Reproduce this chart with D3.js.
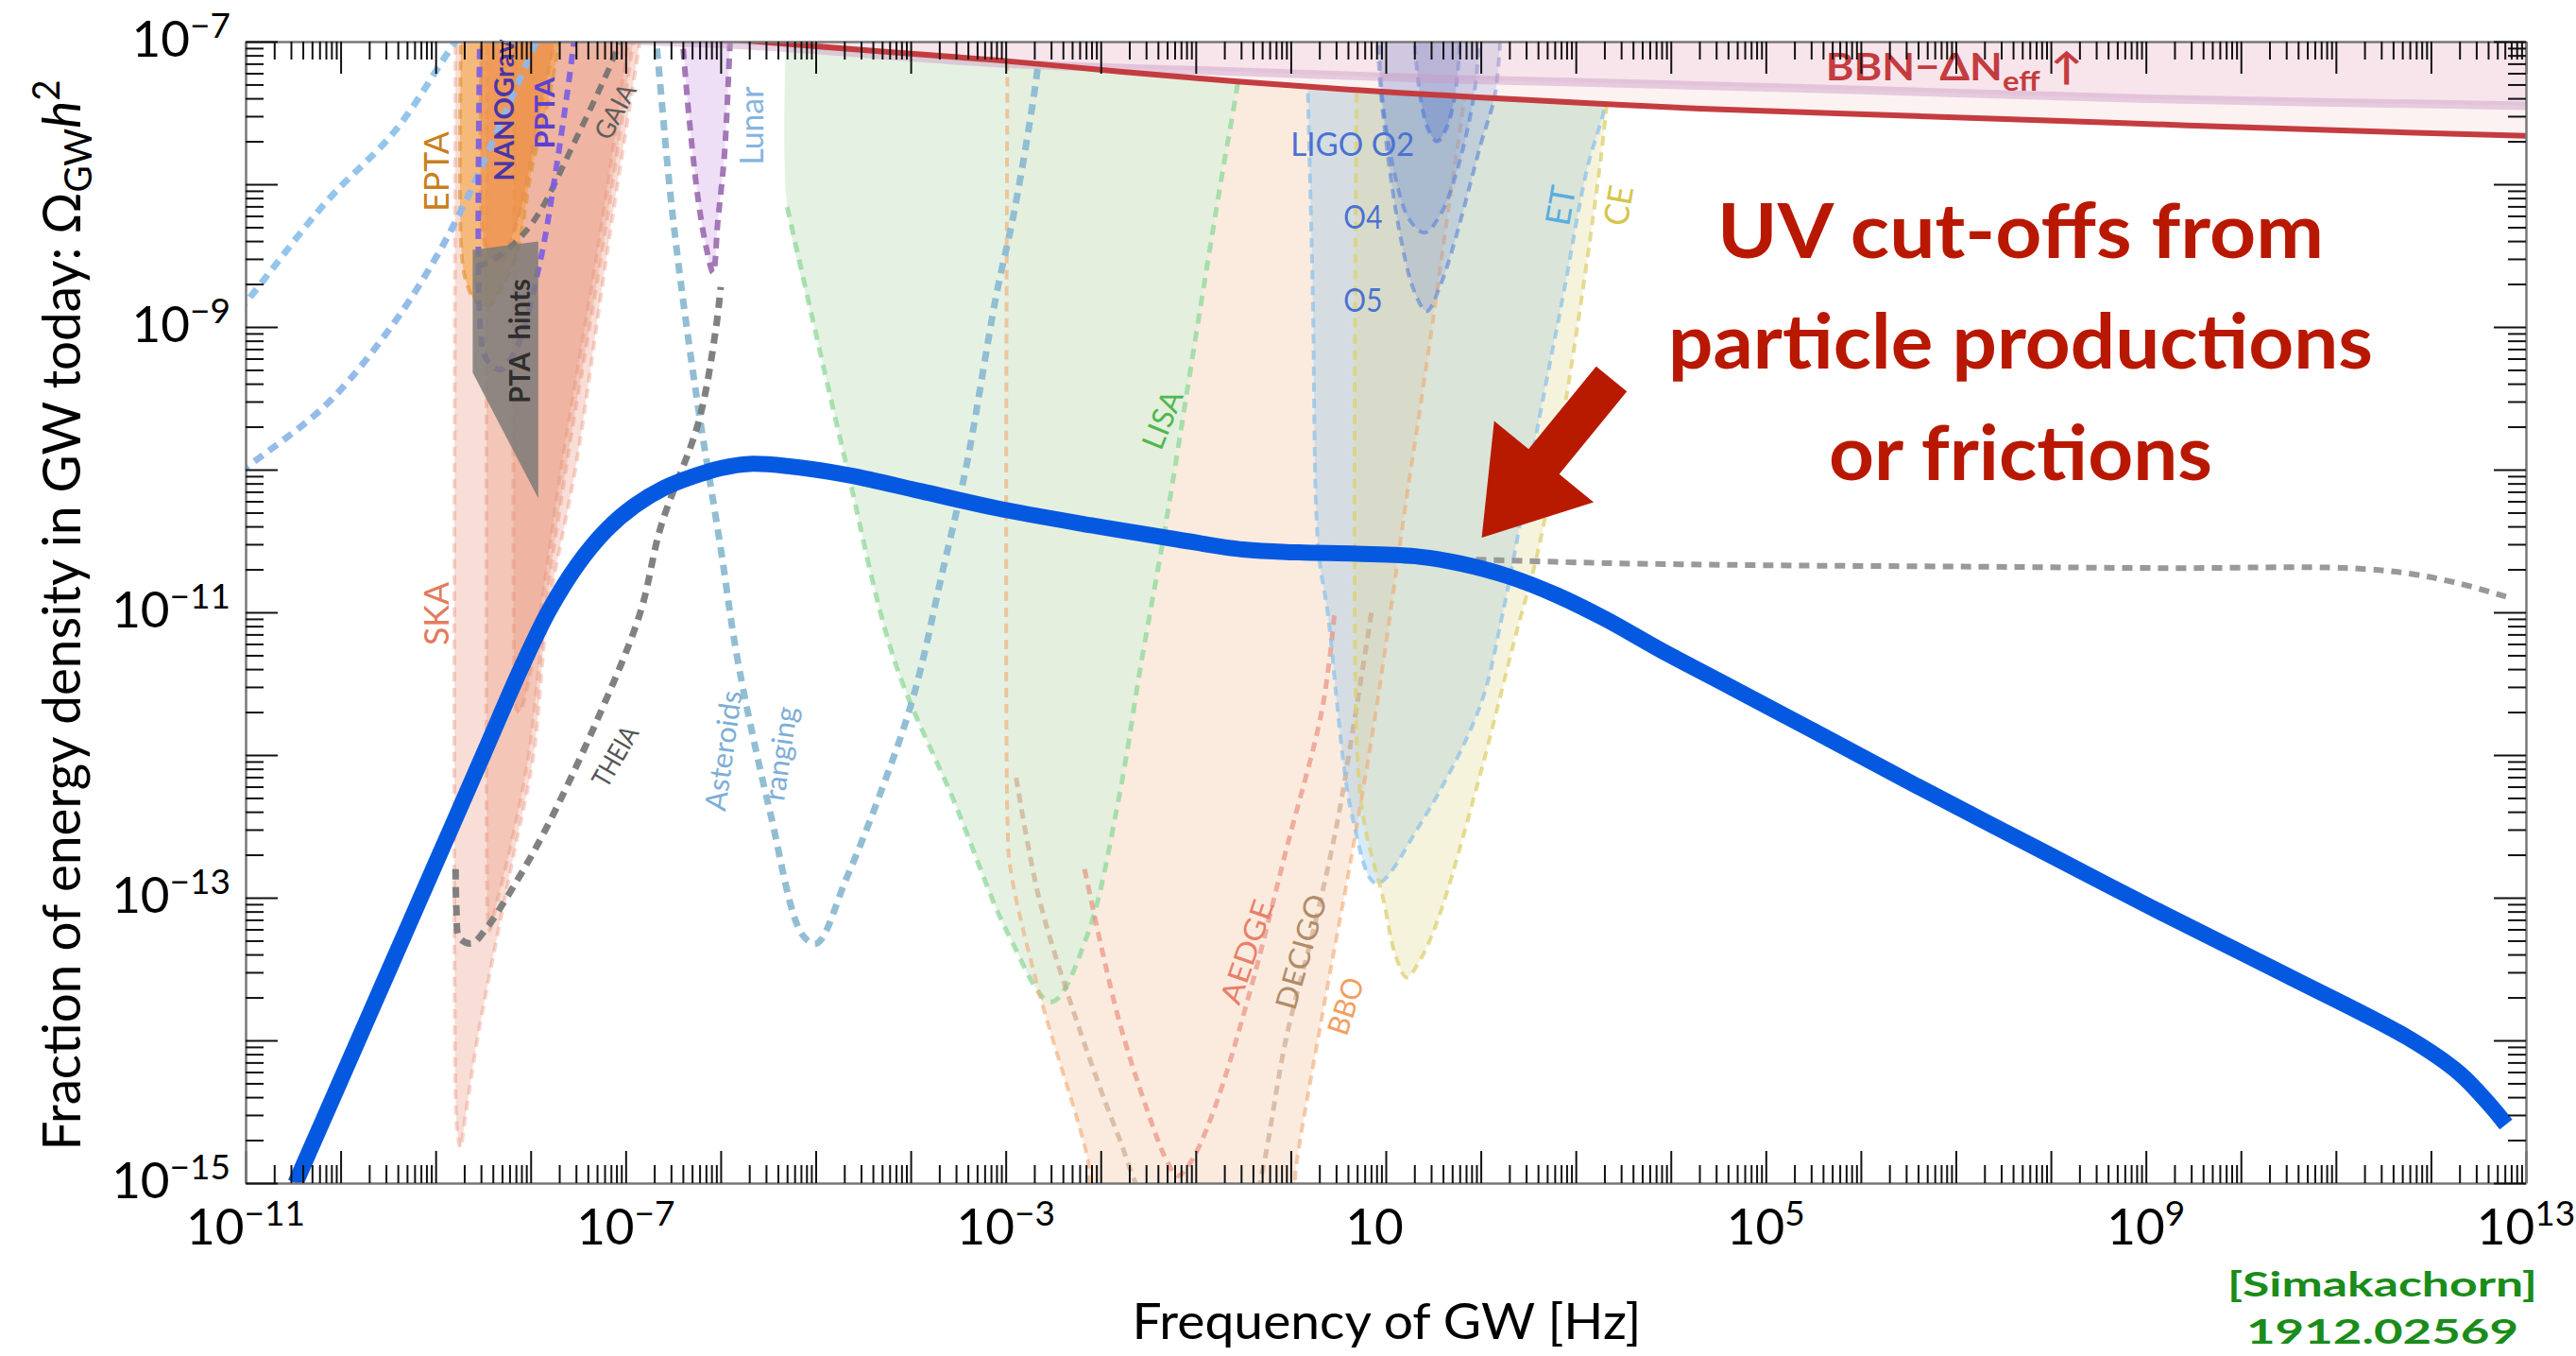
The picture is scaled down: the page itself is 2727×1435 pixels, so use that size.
<!DOCTYPE html>
<html>
<head>
<meta charset="utf-8">
<script src="https://cdn.jsdelivr.net/npm/d3@7/dist/d3.min.js"></script>
<style>
html,body{margin:0;padding:0;background:#fff;}
svg{display:block;}
text{font-family:Lato,"DejaVu Sans",sans-serif;}
</style>
</head>
<body>
<svg id="chart" width="2727" height="1435"></svg>
<script>
// Every curve below is a list of [log10(f / Hz), log10(Omega_GW h^2)] pairs.
const xTickExponents = [-11, -7, -3, 1, 5, 9, 13];
const yTickExponents = [-15, -13, -11, -9, -7];

// GW spectrum of the model (thick blue curve)
const signalCurve = [
  [-10.475,-15.0],[-10.0,-14.28],[-9.5,-13.52],[-9.0,-12.76],[-8.5,-12.0],[-8.1,-11.39],
  [-7.8,-10.98],[-7.5,-10.66],[-7.2,-10.42],[-6.9,-10.25],[-6.6,-10.13],[-6.3,-10.05],
  [-6.0,-9.99],[-5.7,-9.96],[-5.3,-9.975],[-4.64,-10.04],[-3.9,-10.15],[-3.10,-10.27],
  [-2.1,-10.39],[-1.19,-10.49],[-0.5,-10.56],[0.08,-10.58],[0.7,-10.59],[1.35,-10.61],
  [1.8,-10.66],[2.3,-10.75],[2.8,-10.88],[3.32,-11.05],[3.88,-11.26],[4.62,-11.52],
  [5.5,-11.83],[6.57,-12.21],[7.9,-12.67],[9.18,-13.11],[10.5,-13.55],[11.78,-13.99],
  [12.30,-14.23],[12.63,-14.46],[12.79,-14.59]
];
// Spectrum without the UV cut-off (grey dotted)
const uncutTail = [
  [1.95,-10.63],[3.32,-10.655],[5.0,-10.67],[7.22,-10.68],[9.2,-10.69],[11.13,-10.69],
  [11.79,-10.73],[12.31,-10.80],[12.79,-10.89]
];
// BBN / Delta N_eff bounds
const bbnBound = [
  [-6.6,-6.95],[-5.6,-7.0],[-4.3,-7.07],[-3.1,-7.13],[-1.8,-7.21],[-0.56,-7.28],[0.7,-7.34],
  [1.97,-7.39],[3.1,-7.43],[4.31,-7.47],[6.5,-7.52],[8.7,-7.57],[10.9,-7.62],[13.0,-7.66]
];
const bbnBoundAlt = [
  [-8.0,-6.96],[-7.0,-6.99],[-5.63,-7.03],[-3.1,-7.15],[-0.6,-7.21],[1.5,-7.26],[3.3,-7.29],
  [6.0,-7.34],[9.0,-7.40],[13.0,-7.45]
];
// Pulsar timing arrays
const skaOuter = [
  [-8.79,-6.8],[-8.79,-14.4],[-8.77,-14.65],[-8.74,-14.75],[-8.68,-14.5],[-8.56,-13.99],
  [-8.37,-13.33],[-8.17,-12.67],[-7.97,-12.0],[-7.82,-11.01],[-7.52,-9.96],[-7.2,-8.5],
  [-6.85,-7.0],[-6.8,-6.8]
];
const skaMiddle = [
  [-8.46,-6.8],[-8.46,-12.9],[-8.45,-13.15],[-8.43,-13.23],[-8.38,-13.1],[-8.22,-12.67],
  [-8.02,-12.0],[-7.85,-11.01],[-7.62,-9.96],[-7.22,-8.36],[-6.92,-7.0],[-6.88,-6.8]
];
const skaInner = [
  [-8.17,-6.8],[-8.17,-11.5],[-8.15,-11.68],[-8.12,-11.7],[-8.02,-11.48],[-7.90,-11.01],
  [-7.67,-9.96],[-7.27,-8.36],[-6.97,-7.0],[-6.93,-6.8]
];
const eptaRegion = [
  [-8.73,-6.8],[-8.73,-8.45],[-8.68,-8.68],[-8.58,-8.82],[-8.45,-8.86],[-8.3,-8.72],
  [-8.15,-8.50],[-7.99,-7.9],[-7.82,-7.43],[-7.70,-7.0],[-7.67,-6.8]
];
const nanogravRegion = [
  [-8.51,-6.8],[-8.51,-8.3],[-8.45,-8.48],[-8.32,-8.54],[-8.2,-8.38],[-8.09,-8.14],
  [-7.92,-7.55],[-7.75,-7.0],[-7.72,-6.8]
];
const pptaCurve = [
  [-8.53,-6.8],[-8.53,-9.0],[-8.47,-9.22],[-8.32,-9.30],[-8.15,-9.15],[-7.90,-8.54],
  [-7.75,-7.97],[-7.55,-7.03],[-7.52,-6.8]
];
const ptaHints = [[-8.61,-8.46],[-7.92,-8.40],[-7.92,-10.20],[-8.61,-9.32]];
// Astrometry, ranging and other proposals
const gaiaCurve = [
  [-7.05,-6.95],[-7.12,-7.10],[-7.55,-7.72],[-7.92,-8.21],[-8.15,-8.40],[-8.42,-8.54],[-8.6,-8.58]
];
const theiaCurve = [
  [-8.79,-12.80],[-8.78,-13.1],[-8.75,-13.28],[-8.62,-13.32],[-8.45,-13.2],[-8.28,-13.03],
  [-7.88,-12.57],[-7.31,-11.77],[-6.85,-11.01],[-6.63,-10.40],[-6.23,-9.66],[-6.05,-9.01],[-6.0,-8.72]
];
const skyUpper = [[-11.2,-8.98],[-11,-8.83],[-10.16,-8.13],[-9.42,-7.62],[-8.79,-7.0],[-8.6,-6.85]];
const skyLower = [
  [-11.2,-10.1],[-11,-9.99],[-10.16,-9.55],[-9.48,-9.01],[-9.02,-8.54],[-8.67,-8.10],
  [-8.3,-7.55],[-7.94,-7.0],[-7.8,-6.8]
];
const asteroidCurve = [
  [-6.72,-6.8],[-6.68,-7.0],[-6.51,-8.19],[-6.28,-9.37],[-6.0,-10.55],[-5.82,-11.34],
  [-5.48,-12.40],[-5.14,-13.26],[-4.99,-13.32],[-4.68,-12.87],[-4.36,-12.34],[-3.98,-11.61],
  [-3.66,-10.70],[-3.41,-9.96],[-3.10,-8.78],[-2.91,-8.19],[-2.68,-7.27],[-2.62,-6.9]
];
const lunarRegion = [
  [-6.42,-6.8],[-6.40,-7.0],[-6.33,-7.55],[-6.23,-8.14],[-6.15,-8.45],[-6.08,-8.62],
  [-6.03,-8.26],[-5.96,-7.79],[-5.9,-7.0],[-5.88,-6.8]
];
// Space interferometers
const lisaRegion = [
  [-5.30,-6.8],[-5.30,-8.16],[-4.99,-9.07],[-4.68,-9.96],[-4.17,-11.34],[-3.54,-12.33],
  [-2.97,-13.26],[-2.52,-13.73],[-2.14,-13.26],[-1.82,-12.34],[-1.57,-11.34],[-1.32,-10.40],
  [-1.0,-9.07],[-0.75,-8.04],[-0.56,-7.30],[-0.5,-7.0],[-0.48,-6.8]
];
const bboRegion = [
  [-2.98,-6.8],[-2.98,-12.5],[-2.95,-12.8],[-2.65,-13.66],[-2.14,-14.82],[-2.05,-15.2],
  [0.02,-15.2],[0.05,-14.92],[0.33,-13.83],[0.65,-12.67],[0.90,-11.68],[1.23,-10.15],
  [1.33,-9.71],[1.50,-8.94],[1.66,-8.17],[1.83,-7.39],[1.9,-7.0],[1.92,-6.8]
];
const decigoCurve = [
  [-2.89,-12.16],[-2.65,-13.0],[-2.27,-13.83],[-1.82,-14.66],[-1.5,-15.15],[-0.95,-15.4],
  [-0.4,-15.15],[-0.30,-14.92],[-0.05,-13.99],[0.26,-13.17],[0.49,-12.47],[0.65,-11.84],
  [0.77,-11.34],[0.85,-11.0]
];
const aedgeCurve = [
  [-2.17,-12.80],[-1.82,-13.83],[-1.51,-14.49],[-1.30,-14.85],[-1.19,-14.95],[-1.05,-14.85],
  [-0.81,-14.49],[-0.43,-13.66],[-0.05,-12.67],[0.33,-11.68],[0.46,-11.01]
];
// Ground-based interferometers
const etRegion = [
  [0.17,-6.8],[0.17,-7.0],[0.23,-8.70],[0.29,-10.55],[0.39,-11.01],[0.65,-12.44],[0.90,-12.90],
  [1.35,-12.50],[1.98,-11.68],[2.23,-11.01],[2.61,-9.66],[2.87,-8.77],[3.12,-7.89],[3.31,-7.45],
  [3.42,-7.0],[3.45,-6.8]
];
const ceRegion = [
  [0.70,-6.8],[0.70,-12.0],[0.78,-12.5],[0.97,-13.0],[1.1,-13.4],[1.22,-13.56],[1.35,-13.45],
  [1.54,-13.17],[1.98,-12.17],[2.36,-11.18],[2.61,-10.55],[2.93,-9.37],[3.25,-7.89],[3.34,-7.36],
  [3.4,-7.0],[3.42,-6.8]
];
const ligoO5 = [
  [0.9,-6.8],[0.95,-7.37],[1.13,-8.28],[1.3,-8.75],[1.43,-8.89],[1.58,-8.7],[1.73,-8.39],
  [2.0,-7.72],[2.15,-7.37],[2.22,-6.8]
];
const ligoO4 = [
  [0.93,-6.8],[0.96,-7.37],[1.10,-7.95],[1.25,-8.25],[1.41,-8.34],[1.57,-8.22],[1.73,-7.95],
  [1.93,-7.37],[2.0,-6.8]
];
const ligoO2 = [[1.28,-6.8],[1.36,-7.37],[1.45,-7.62],[1.54,-7.70],[1.63,-7.62],[1.73,-7.37],[1.8,-6.8]];
// Arrow pointing at the cut-off: tail and head
const arrowTail = [3.376, -9.364];
const arrowHead = [2.01, -10.477];

// ---- Layout ----
const W = 2727, H = 1435;
const M = {left: 260, right: 2674, top: 44, bottom: 1252};

const x = d3.scaleLog().domain([1e-11, 1e13]).range([M.left, M.right]);
const y = d3.scaleLog().domain([1e-15, 1e-7]).range([M.bottom, M.top]);
const px = d => x(Math.pow(10, d[0]));
const py = d => y(Math.pow(10, d[1]));

const smooth = d3.line().x(px).y(py).curve(d3.curveCatmullRom.alpha(0.5));
const straight = d3.line().x(px).y(py).curve(d3.curveLinearClosed);
const areaAbove = d3.area().x(px).y0(M.top - 20).y1(py).curve(d3.curveCatmullRom.alpha(0.5));

const svg = d3.select("#chart");
svg.append("rect").attr("width", W).attr("height", H).attr("fill", "#fff");
const defs = svg.append("defs");
defs.append("clipPath").attr("id", "plotClip").append("rect")
  .attr("x", M.left).attr("y", M.top)
  .attr("width", M.right - M.left).attr("height", M.bottom - M.top);
const last = bbnBound[bbnBound.length - 1];
defs.append("clipPath").attr("id", "bbnClip").append("path")
  .attr("d", smooth(bbnBound) + `L${W},${py(last)}L${W},${H}L0,${H}L0,0L${px(bbnBound[0])},0Z`);

const plot = svg.append("g").attr("clip-path", "url(#plotClip)");
const sens = plot.append("g").attr("clip-path", "url(#bbnClip)");

function region(g, data, fill, fillOpacity) {
  g.append("path").attr("d", smooth(data)).attr("fill", fill).attr("fill-opacity", fillOpacity).attr("stroke", "none");
}
function curve(g, data, color, width, dash, opacity) {
  g.append("path").attr("d", smooth(data)).attr("fill", "none")
    .attr("stroke", color).attr("stroke-width", width)
    .attr("stroke-dasharray", dash).attr("stroke-opacity", opacity == null ? 1 : opacity);
}

// Pulsar timing arrays
[skaOuter, skaMiddle, skaInner].forEach(d => region(sens, d, "#e6876a", 0.28));
[skaOuter, skaMiddle, skaInner].forEach(d => curve(sens, d, "#e8876c", 4, "10,7", 0.35));
region(sens, eptaRegion, "#f5a040", 0.6);
region(sens, nanogravRegion, "#e8803c", 0.45);
curve(sens, eptaRegion, "#e09030", 4, "10,7", 0.6);
curve(sens, nanogravRegion, "#e08a48", 4, "10,7", 0.5);

// Space and ground interferometers
region(sens, bboRegion, "#f0b080", 0.25);
region(sens, lisaRegion, "#e0f0de", 0.85);
region(sens, etRegion, "#8ec3ec", 0.35);
region(sens, ceRegion, "#e2d890", 0.3);
region(sens, lunarRegion, "#e2c8f0", 0.6);
curve(sens, lisaRegion.slice(1), "#8fd89a", 5, "11,8", 0.75);
curve(sens, bboRegion, "#f0a870", 4, "10,7", 0.6);
curve(sens, decigoCurve, "#c8a080", 5, "10,7", 0.6);
curve(sens, aedgeCurve, "#e88a7a", 5, "10,7", 0.65);
curve(sens, etRegion, "#8ec3ea", 4, "10,7", 0.75);
curve(sens, ceRegion, "#dcd070", 4, "10,7", 0.75);

region(plot, ligoO5, "#6f8fd8", 0.25);
region(plot, ligoO4, "#6f8fd8", 0.25);
region(plot, ligoO2, "#5a78c8", 0.35);
curve(plot, ligoO5, "#5a80d8", 4, "10,7", 0.6);
curve(plot, ligoO4, "#5a80d8", 4, "10,7", 0.6);
curve(plot, ligoO2, "#5a80d8", 4, "10,7", 0.7);

// Dotted/dashed sensitivity lines
curve(sens, skyUpper, "#8ec2ea", 7, "11,8", 0.95);
curve(sens, skyLower, "#8fb8e8", 7, "11,8", 0.95);
curve(sens, asteroidCurve, "#8cbad2", 7, "11,8", 0.95);
curve(sens, theiaCurve, "#7a7a7a", 7, "11,8", 0.95);
curve(sens, gaiaCurve, "#707070", 6, "11,8", 0.9);
curve(sens, lunarRegion, "#9a6aae", 6, "11,8", 0.9);
curve(sens, pptaCurve, "#7a5ce6", 6, "11,8", 0.9);

plot.append("path").attr("d", straight(ptaHints))
  .attr("fill", "#7c7a78").attr("fill-opacity", 0.85).attr("stroke", "none");

// BBN bound
plot.append("path").attr("d", areaAbove(bbnBound)).attr("fill", "#f6cccc").attr("fill-opacity", 0.25);
plot.append("path").attr("d", areaAbove(bbnBoundAlt)).attr("fill", "#dcaecd").attr("fill-opacity", 0.18);
curve(plot, bbnBoundAlt, "#c99ac6", 9, null, 0.45);
curve(plot, bbnBound, "#c43c3f", 6, null, 1);

// Spectrum
curve(plot, uncutTail, "#999999", 6, "11,8", 1);
plot.append("path").attr("d", smooth(signalCurve))
  .attr("fill", "none").attr("stroke", "#0559e0").attr("stroke-width", 17)
  .attr("stroke-linejoin", "round").attr("stroke-linecap", "butt");

// Detector labels
const labels = [
  {text: "EPTA", at: [-8.99, -7.91], angle: -90, color: "#c8801e", size: 36, len: 85},
  {text: "SKA", at: [-8.99, -11.01], angle: -90, color: "#e27c5e", size: 36, len: 67},
  {text: "NANOGrav", at: [-8.28, -7.48], angle: -90, color: "#4a35a8", size: 29, len: 150, bold: true},
  {text: "PPTA", at: [-7.85, -7.50], angle: -90, color: "#5c40d0", size: 28, len: 76, bold: true},
  {text: "GAIA", at: [-7.11, -7.49], angle: -62, color: "#5e5e5e", size: 28, len: 62},
  {text: "Lunar", at: [-5.67, -7.59], angle: -90, color: "#86b4e2", size: 34, len: 83},
  {text: "PTA  hints", at: [-8.11, -9.10], angle: -90, color: "#2e2e2e", size: 30, len: 132, bold: true},
  {text: "THEIA", at: [-7.11, -12.01], angle: -60, color: "#555555", size: 28, len: 69},
  {text: "Asteroids", at: [-5.97, -11.97], angle: -82, color: "#7eaed6", size: 31, len: 128},
  {text: "ranging", at: [-5.37, -11.99], angle: -82, color: "#7eaed6", size: 31, len: 100},
  {text: "LISA", at: [-1.35, -9.65], angle: -68, color: "#4fb84f", size: 32, len: 64},
  {text: "AEDGE", at: [-0.46, -13.38], angle: -71, color: "#e8806a", size: 31, len: 114},
  {text: "DECIGO", at: [0.11, -13.38], angle: -74, color: "#b08d68", size: 31, len: 125},
  {text: "BBO", at: [0.58, -13.76], angle: -72, color: "#f0a060", size: 31, len: 62},
  {text: "ET", at: [2.84, -8.15], angle: -80, color: "#5aaee0", size: 36, len: 42},
  {text: "CE", at: [3.45, -8.15], angle: -80, color: "#d6c54a", size: 36, len: 42},
  {text: "LIGO O2", at: [0.65, -7.72], angle: 0, color: "#4a72d0", size: 35, len: 131},
  {text: "O4", at: [0.76, -8.23], angle: 0, color: "#4a72d0", size: 35, len: 41},
  {text: "O5", at: [0.76, -8.81], angle: 0, color: "#4a72d0", size: 35, len: 41}
];
const labelLayer = svg.append("g");
labels.forEach(l => {
  labelLayer.append("text")
    .attr("transform", `translate(${px(l.at)},${py(l.at)}) rotate(${l.angle})`)
    .attr("text-anchor", "middle").attr("dy", "0.35em")
    .attr("font-size", l.size).attr("font-weight", l.bold ? 700 : 400)
    .attr("fill", l.color)
    .attr("textLength", l.len).attr("lengthAdjust", "spacingAndGlyphs")
    .style("white-space", "pre")
    .text(l.text);
});

// BBN label
const bbnText = labelLayer.append("text")
  .attr("x", px([5.63, 0])).attr("y", py([0, -7.27]))
  .attr("font-size", 40).attr("font-weight", 700).attr("fill", "#c43c3f")
  .attr("textLength", 272).attr("lengthAdjust", "spacingAndGlyphs");
bbnText.append("tspan").text("BBN\u2212\u0394N");
bbnText.append("tspan").attr("dy", 11).attr("font-size", 29).text("eff");
bbnText.append("tspan").attr("dy", -11).text(" \u2191");

// Arrow
const t0 = [px(arrowTail), py(arrowTail)], t1 = [px(arrowHead), py(arrowHead)];
const len = Math.hypot(t1[0] - t0[0], t1[1] - t0[1]);
const u = [(t1[0] - t0[0]) / len, (t1[1] - t0[1]) / len], n = [-u[1], u[0]];
const shaftW = 42, headW = 136, headL = 104;
const base = [t1[0] - u[0] * headL, t1[1] - u[1] * headL];
const off = (p, w) => [p[0] + n[0] * w, p[1] + n[1] * w];
const arrowPts = [off(t0, shaftW / 2), off(base, shaftW / 2), off(base, headW / 2), t1,
  off(base, -headW / 2), off(base, -shaftW / 2), off(t0, -shaftW / 2)];
svg.append("path").attr("d", d3.line()(arrowPts) + "Z").attr("fill", "#b81a00");

// Annotation text
const uvLines = [
  {text: "UV cut-offs from", y: 273, len: 642},
  {text: "particle productions", y: 390, len: 746},
  {text: "or frictions", y: 508, len: 406}
];
uvLines.forEach(l => {
  svg.append("text").attr("x", 2139).attr("y", l.y)
    .attr("text-anchor", "middle").attr("font-size", 80).attr("font-weight", 700)
    .attr("fill", "#b81800")
    .attr("textLength", l.len).attr("lengthAdjust", "spacingAndGlyphs")
    .text(l.text);
});

// Reference tag
[["[Simakachorn]", 1372, 328], ["1912.02569", 1422, 288]].forEach(([t, yy, L]) => {
  svg.append("text").attr("x", 2522).attr("y", yy).attr("text-anchor", "middle")
    .attr("font-family", "'DejaVu Serif', serif").attr("font-weight", 700)
    .attr("font-size", 36).attr("fill", "#1a8c1a")
    .attr("textLength", L).attr("lengthAdjust", "spacingAndGlyphs")
    .text(t);
});

// ---- Axes ----
const decadesX = d3.range(-11, 14).map(e => Math.pow(10, e));
const minorX = [];
d3.range(-11, 13).forEach(e => d3.range(2, 10).forEach(k => minorX.push(k * Math.pow(10, e))));
const decadesY = d3.range(-15, -6).map(e => Math.pow(10, e));
const minorY = [];
d3.range(-15, -7).forEach(e => d3.range(2, 10).forEach(k => minorY.push(k * Math.pow(10, e))));

const axes = svg.append("g");
function drawAxis(axisFn, scale, tr, major, minor) {
  const gMaj = axes.append("g").attr("transform", tr)
    .call(axisFn(scale).tickValues(major).tickSizeInner(-34).tickSizeOuter(0).tickFormat(""));
  const gMin = axes.append("g").attr("transform", tr)
    .call(axisFn(scale).tickValues(minor).tickSizeInner(-19).tickSizeOuter(0).tickFormat(""));
  gMin.select(".domain").remove();
  [gMaj, gMin].forEach(g => g.selectAll(".tick line").attr("stroke", "#111").attr("stroke-width", 2));
  gMaj.select(".domain").attr("stroke", "#777").attr("stroke-width", 2.5);
}
drawAxis(d3.axisBottom, x, `translate(0,${M.bottom})`, decadesX, minorX);
drawAxis(d3.axisTop, x, `translate(0,${M.top})`, decadesX, minorX);
drawAxis(d3.axisLeft, y, `translate(${M.left},0)`, decadesY, minorY);
drawAxis(d3.axisRight, y, `translate(${M.right},0)`, decadesY, minorY);

const fmtExp = e => (e < 0 ? "\u2212" + (-e) : String(e));
xTickExponents.forEach(e => {
  const t = axes.append("text").attr("x", x(Math.pow(10, e)) - (e === 1 ? 12 : 0)).attr("y", 1317)
    .attr("text-anchor", "middle").attr("font-size", 53).attr("fill", "#000");
  t.append("tspan").text("10");
  if (e !== 1) t.append("tspan").attr("dy", -20).attr("font-size", 37).text(fmtExp(e));
});
yTickExponents.forEach(e => {
  const t = axes.append("text").attr("x", 244).attr("y", y(Math.pow(10, e)) + 16)
    .attr("text-anchor", "end").attr("font-size", 53).attr("fill", "#000");
  t.append("tspan").text("10");
  t.append("tspan").attr("dy", -20).attr("font-size", 37).text(fmtExp(e));
});

// Axis titles
svg.append("text").attr("x", 1468).attr("y", 1417).attr("text-anchor", "middle")
  .attr("font-size", 52).attr("fill", "#000")
  .attr("textLength", 539).attr("lengthAdjust", "spacingAndGlyphs")
  .text("Frequency of GW [Hz]");
const yl = svg.append("text").attr("transform", "translate(85,651) rotate(-90)")
  .attr("text-anchor", "middle").attr("font-size", 57).attr("fill", "#000")
  .attr("textLength", 1133).attr("lengthAdjust", "spacingAndGlyphs");
yl.append("tspan").text("Fraction of energy density in GW today: \u03A9");
yl.append("tspan").attr("dy", 12).attr("font-size", 40).text("GW");
yl.append("tspan").attr("dy", -12).attr("font-style", "italic").text("h");
yl.append("tspan").attr("dy", -22).attr("font-size", 40).text("2");
</script>
</body>
</html>
